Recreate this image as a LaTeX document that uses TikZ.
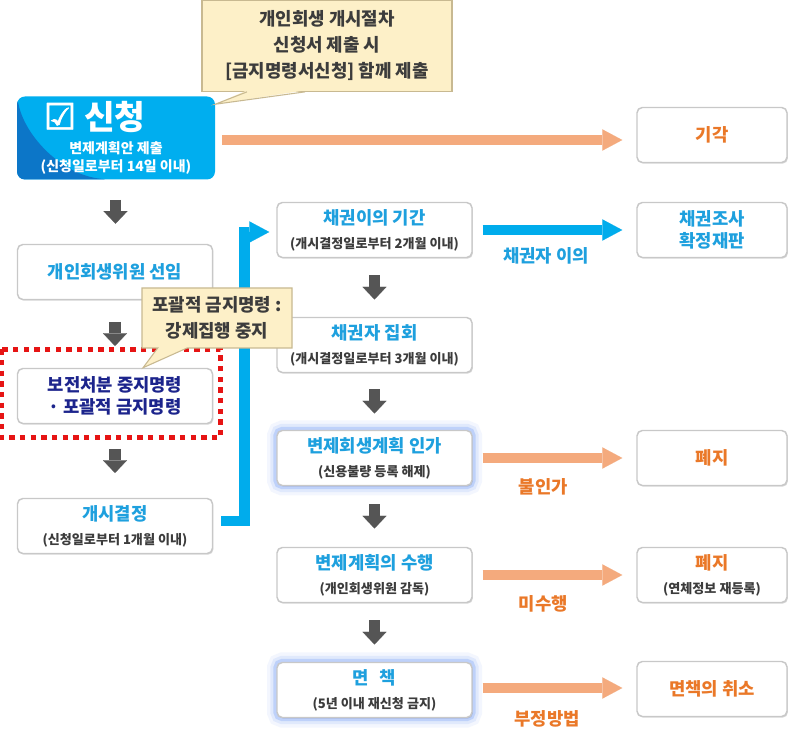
\documentclass[tikz,border=0pt]{standalone}
\usepackage{fontspec}
\setmainfont{Noto Sans CJK KR}
\newfontfamily\symfont{DejaVu Sans}[FakeBold=2]
\usepackage{tikz}
\usetikzlibrary{positioning,arrows.meta,shapes.callouts,shadows,calc}

\definecolor{tblue}{RGB}{30,160,222}
\definecolor{torange}{RGB}{234,120,40}
\definecolor{tnavy}{RGB}{28,36,140}
\definecolor{tgray}{RGB}{60,60,60}
\definecolor{sinblue}{RGB}{0,174,239}
\definecolor{sindark}{RGB}{12,118,200}
\definecolor{oarr}{RGB}{244,170,125}
\definecolor{barr}{RGB}{0,172,236}
\definecolor{garr}{RGB}{85,85,85}
\definecolor{callfill}{RGB}{253,240,200}
\definecolor{calldraw}{RGB}{200,185,145}
\definecolor{boxdraw}{RGB}{200,200,200}
\definecolor{glowc}{RGB}{90,140,245}
\definecolor{framered}{RGB}{230,20,20}

\newcommand{\ttl}[2][tblue]{{\fontsize{13.3pt}{18pt}\selectfont\bfseries\color{#1}#2}}
\newcommand{\sbt}[1]{{\fontsize{9.8pt}{18pt}\selectfont\bfseries #1}}

\tikzset{
  box/.style={draw=boxdraw, line width=1.1pt, fill=white, rounded corners=4pt,
    minimum width=146.25pt, minimum height=41.25pt, inner sep=0pt, align=center,
    text=tgray, font=\fontsize{10pt}{18pt}\selectfont,
    drop shadow={shadow xshift=0.7pt, shadow yshift=-0.9pt, opacity=0.3}},
  rbox/.style={box, minimum width=112.5pt},
  gbox/.style={box,
    preaction={draw=glowc, line width=15pt, opacity=0.07},
    preaction={draw=glowc, line width=10pt, opacity=0.12},
    preaction={draw=glowc, line width=5.5pt, opacity=0.25}},
  sinbox/.style={fill=sinblue, rounded corners=6pt, minimum width=148.5pt,
    minimum height=62.25pt, inner sep=0pt, align=center, text=white,
    font=\fontsize{10.5pt}{13.5pt}\selectfont\bfseries,
    path picture={\fill[sindark] (path picture bounding box.north west)
      .. controls +(6pt,-30pt) and +(-35pt,3pt) ..
      ([xshift=-5pt]path picture bounding box.south) -- (path picture bounding box.south west) -- cycle;}},
  notebox/.style={draw=calldraw, fill=callfill, line width=0.8pt,
    align=center, inner sep=0pt, text=tgray,
    font=\fontsize{13.4pt}{19.5pt}\selectfont\bfseries},
  callbox/.style={notebox, rectangle callout},
  oarrow/.style={draw=oarr, line width=7.5pt, -{Triangle[length=15pt,width=16pt,line width=0.1pt]}},
  barrow/.style={draw=barr, line width=7.5pt, -{Triangle[length=15pt,width=16pt,line width=0.1pt]}},
  garrow/.style={draw=garr, line width=8.5pt, -{Triangle[length=9.5pt,width=18pt,line width=0.1pt]}},
  lbl/.style={font=\fontsize{13.3pt}{16pt}\selectfont\bfseries},
  redframe/.style={draw=framered, line width=3.75pt, dash pattern=on 4pt off 4pt}
}

\begin{document}
\begin{tikzpicture}[x=0.75pt, y=-0.75pt]
    \path[use as bounding box, fill=white] (0,0) rectangle (800,737);
    % Colonna sinistra
    \node[sinbox] (sin) at (116,138) {{\fontsize{25pt}{13.5pt}\selectfont{\symfont\fontsize{27pt}{13.5pt}\selectfont ☑}\hspace{6pt}신청}\hspace*{32pt}\\[5pt]
      변제계획안 제출\\(신청일로부터 14일 이내)};
    \node[box] (wiwon) at (115,272) {\ttl{개인회생위원 선임}};
    \node[box] (bojeon) at (115,396) {\ttl[tnavy]{보전처분 중지명령}\\[-2pt]\ttl[tnavy]{· 포괄적 금지명령}};
    \node[box] (gaesi) at (115,526) {\ttl{개시결정}\\\sbt{(신청일로부터 1개월 이내)}};
    % Colonna centrale
    \node[box] (ieui) at (374.5,230) {\ttl{채권이의 기간}\\\sbt{(개시결정일로부터 2개월 이내)}};
    \node[box] (jipheo) at (374.5,345) {\ttl{채권자 집회}\\\sbt{(개시결정일로부터 3개월 이내)}};
    \node[gbox] (inga) at (374.5,458) {\ttl{변제회생계획 인가}\\\sbt{(신용불량 등록 해제)}};
    \node[box] (suhaeng) at (374.5,575) {\ttl{변제계획의 수행}\\\sbt{(개인회생위원 감독)}};
    \node[gbox] (myeon) at (374.5,690) {\ttl{면\hspace{8pt}책}\\\sbt{(5년 이내 재신청 금지)}};
    % Colonna destra
    \node[rbox] (giak) at (712,135) {\ttl[torange]{기각}};
    \node[rbox] (josa) at (712,230) {\ttl{채권조사}\\[-1pt]\ttl{확정재판}};
    \node[rbox] (pyeji) at (712,458) {\ttl[torange]{폐지}};
    \node[rbox] (pyejib) at (712,575) {\ttl[torange]{폐지}\\\sbt{(연체정보 재등록)}};
    \node[rbox] (chwiso) at (712,689) {\ttl[torange]{면책의 취소}};
    % Frecce verso il basso
    \foreach \a/\b in {sin/wiwon, wiwon/bojeon, bojeon/gaesi, ieui/jipheo, jipheo/inga, inga/suhaeng, suhaeng/myeon}
      \draw[garrow] ($(\a.south)!0.5!(\b.north)+(0,-12)$) -- ++(0,24);
    % Frecce orizzontali
    \draw[oarrow] ($(sin.east)+(7,2)$) -- ($(giak.west|-sin.east)+(-14,2)$);
    \draw[barrow] ($(ieui.east)+(10,0)$) -- ($(josa.west)+(-14,0)$)
      node[lbl, text=tblue, midway, xshift=-5pt, yshift=-19.5pt] {채권자 이의};
    \draw[oarrow] ($(inga.east)+(10,0)$) -- ($(pyeji.west)+(-14,0)$)
      node[lbl, text=torange, midway, xshift=-7pt, yshift=-21.5pt] {불인가};
    \draw[oarrow] ($(suhaeng.east)+(10,0)$) -- ($(pyejib.west)+(-14,0)$)
      node[lbl, text=torange, midway, xshift=-7pt, yshift=-22pt] {미수행};
    \draw[oarrow] ($(myeon.east)+(10,-2)$) -- ($(chwiso.west)+(-14,-1)$)
      node[lbl, text=torange, midway, xshift=-4pt, yshift=-23pt] {부정방법};
    % Connettore blu a gomito
    \draw[barrow, line width=8pt] ($(gaesi.east)+(8,-5)$) -- ++(23,0) |- ($(ieui.west)+(-7,2)$);
    % Cornice rossa tratteggiata
    \draw[redframe] ($(bojeon.north west)+(-15,-18.5)$) rectangle ($(bojeon.south east)+(7,13.5)$);
    % Fumetti
    \node[notebox, minimum width=187.5pt, minimum height=68pt] (nota) at (327,46)
      {개인회생 개시절차\\신청서 제출 시\\{[}금지명령서신청{]} 함께 제출};
    \fill[callfill] ($(nota.south)+(-80,-1.5)$) -- ($(sin.north east)+(0,8)$) -- ($(nota.south)+(-22,-1.5)$) -- cycle;
    \draw[calldraw, line width=0.8pt] ($(nota.south)+(-80,0)$) -- ($(sin.north east)+(0,8)$) -- ($(nota.south)+(-22,0)$);
    \node[callbox, minimum width=112.5pt, minimum height=45pt, callout pointer width=22pt,
      callout absolute pointer={($(bojeon.north)+(28,0)$)}] (notab) at (217,318)
      {포괄적 금지명령 :\\강제집행 중지};
\end{tikzpicture}
\end{document}
